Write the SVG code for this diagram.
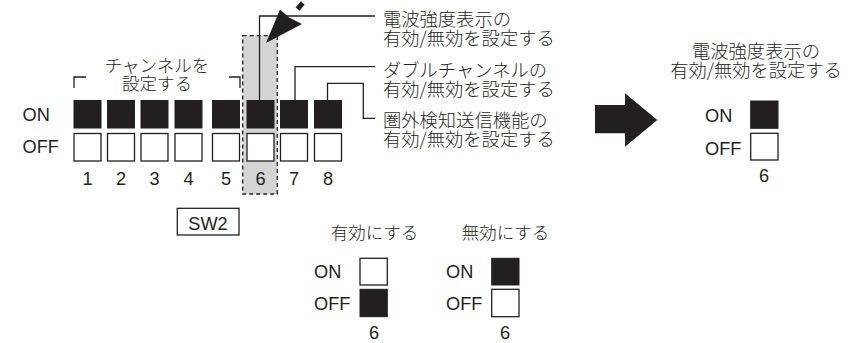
<svg xmlns="http://www.w3.org/2000/svg" width="857" height="343" viewBox="0 0 857 343">
<style>
.jp{font-family:"Noto Sans CJK JP","Noto Sans",sans-serif;font-size:17.5px;font-weight:300;fill:#231f20}
.lg{font-size:18.3px}
.en{font-family:"Liberation Sans",Arial,sans-serif;font-size:18.2px;fill:#231f20}
.on{fill:#231f20;stroke:#231f20;stroke-width:1}
.off{fill:#fff;stroke:#231f20;stroke-width:1.3}
.ln{fill:none;stroke:#231f20;stroke-width:1.3}
.mid{text-anchor:middle}
</style>
<rect id="highlight" x="242.7" y="35.7" width="34.6" height="158.3" fill="#d4d4d4" stroke="#231f20" stroke-width="1.3" stroke-dasharray="4 3"/>
<g id="connectors">
<polyline class="ln" points="259.5,100.5 259.5,16 375,16"/>
<polyline class="ln" points="295,100.5 295,66.7 375,66.7"/>
<polyline class="ln" points="327.5,100.5 327.5,83.3 363.3,83.3 363.3,118.3 375,118.3"/>
<polyline class="ln" points="74,88 74,77 86,77"/>
<polyline class="ln" points="229,77 240,77 240,88"/>
<polygon points="266,43 280,9.5 289,17.5 302,24" fill="#231f20"/>
<line x1="297.5" y1="9" x2="302.8" y2="3" stroke="#231f20" stroke-width="5"/>
<polygon points="595,105 625,105 625,93.3 657.3,120 625,146.7 625,133.3 595,133.3" fill="#231f20"/>
</g>
<g id="sw2-switches">
<text class="en" x="22.5" y="121">ON</text>
<text class="en" x="22.5" y="152.7">OFF</text>
<rect class="on" x="74" y="100.5" width="27" height="27.5"/><rect class="off" x="74" y="133.5" width="27" height="27.5"/>
<rect class="on" x="107.5" y="100.5" width="27" height="27.5"/><rect class="off" x="107.5" y="133.5" width="27" height="27.5"/>
<rect class="on" x="141" y="100.5" width="27" height="27.5"/><rect class="off" x="141" y="133.5" width="27" height="27.5"/>
<rect class="on" x="175" y="100.5" width="27" height="27.5"/><rect class="off" x="175" y="133.5" width="27" height="27.5"/>
<rect class="on" x="212.5" y="100.5" width="27" height="27.5"/><rect class="off" x="212.5" y="133.5" width="27" height="27.5"/>
<rect class="on" x="247" y="100.5" width="27" height="27.5"/><rect class="off" x="247" y="133.5" width="27" height="27.5"/>
<rect class="on" x="280.5" y="100.5" width="27" height="27.5"/><rect class="off" x="280.5" y="133.5" width="27" height="27.5"/>
<rect class="on" x="314.5" y="100.5" width="27" height="27.5"/><rect class="off" x="314.5" y="133.5" width="27" height="27.5"/>
<text class="en mid" x="87.5" y="185">1</text>
<text class="en mid" x="121" y="185">2</text>
<text class="en mid" x="154.5" y="185">3</text>
<text class="en mid" x="188.5" y="185">4</text>
<text class="en mid" x="226" y="185">5</text>
<text class="en mid" x="260.5" y="185">6</text>
<text class="en mid" x="294" y="185">7</text>
<text class="en mid" x="328" y="185">8</text>
</g>
<g id="channel-label">
<text class="jp mid" x="157" y="72">チャンネルを</text>
<text class="jp mid" x="157" y="89.5">設定する</text>
</g>
<g id="label-6">
<text class="jp lg" x="383" y="25.5">電波強度表示の</text>
<text class="jp lg" x="383" y="44.5">有効/無効を設定する</text>
</g>
<g id="label-7">
<text class="jp lg" x="383" y="77">ダブルチャンネルの</text>
<text class="jp lg" x="383" y="95.5">有効/無効を設定する</text>
</g>
<g id="label-8">
<text class="jp lg" x="383" y="127">圏外検知送信機能の</text>
<text class="jp lg" x="383" y="145.5">有効/無効を設定する</text>
</g>
<g id="sw2-label">
<rect class="off" x="177.3" y="208.3" width="61.7" height="26.7"/>
<text class="en mid" x="208" y="229.5">SW2</text>
</g>
<g id="enable">
<text class="jp mid" x="374.5" y="239">有効にする</text>
<text class="en" x="314" y="278.3">ON</text>
<text class="en" x="314" y="310">OFF</text>
<rect class="off" x="360" y="258.3" width="27.3" height="26.7"/>
<rect class="on" x="360" y="289.3" width="27.3" height="27.4"/>
<text class="en mid" x="374" y="339">6</text>
</g>
<g id="disable">
<text class="jp mid" x="505.5" y="239">無効にする</text>
<text class="en" x="446" y="278.3">ON</text>
<text class="en" x="446" y="310">OFF</text>
<rect class="on" x="491.7" y="258.3" width="27.3" height="26.7"/>
<rect class="off" x="491.7" y="289.3" width="27.3" height="27.4"/>
<text class="en mid" x="505" y="339">6</text>
</g>
<g id="result">
<text class="jp lg mid" x="756" y="58">電波強度表示の</text>
<text class="jp lg mid" x="756" y="77">有効/無効を設定する</text>
<text class="en" x="705" y="121.5">ON</text>
<text class="en" x="705" y="154.5">OFF</text>
<rect class="on" x="750.7" y="101" width="27.3" height="27.3"/>
<rect class="off" x="750.7" y="133.3" width="27.3" height="26.7"/>
<text class="en mid" x="764" y="181.5">6</text>
</g>
</svg>
